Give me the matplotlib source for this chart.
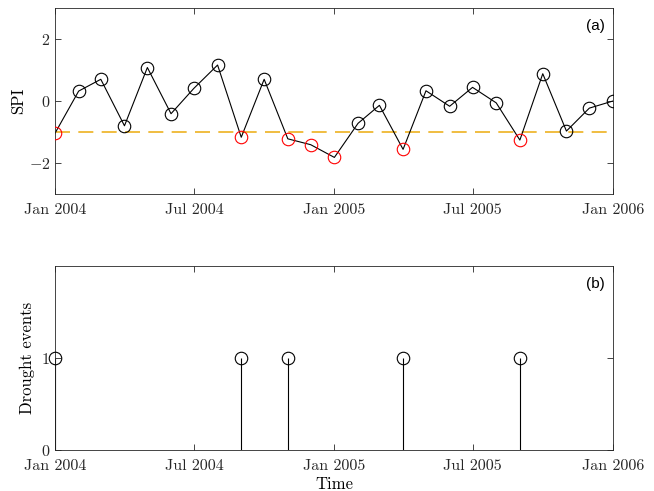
import numpy as np
import pandas as pd
import matplotlib
matplotlib.use('Agg')
import matplotlib.pyplot as plt
import matplotlib.dates as mdates

# monthly SPI, Jan 2004 .. Jan 2006
months = pd.date_range('2004-01-01', '2006-01-01', freq='MS')
spi = [-1.04, 0.32, 0.70, -0.80, 1.08, -0.41, 0.41, 1.16, -1.17, 0.70, -1.22, -1.41,
       -1.82, -0.72, -0.14, -1.56, 0.33, -0.17, 0.44, -0.06, -1.26, 0.88, -0.97, -0.23,
       0.0]
threshold = -1.0

# drought onset months
event_dates = pd.to_datetime(['2004-01-01', '2004-09-01', '2004-11-01', '2005-04-01', '2005-09-01'])
event_counts = [1, 1, 1, 1, 1]

xticks = pd.to_datetime(['2004-01-01', '2004-07-01', '2005-01-01', '2005-07-01', '2006-01-01'])

plt.rcParams['font.family'] = 'cmr10'
plt.rcParams['axes.unicode_minus'] = False
plt.rcParams['axes.formatter.use_mathtext'] = True

fig = plt.figure(figsize=(6.54, 4.91), dpi=100)
ax1 = fig.add_axes([0.0841, 0.6049, 0.8532, 0.3788])
ax2 = fig.add_axes([0.0841, 0.0835, 0.8532, 0.3747])

spi = np.array(spi)
dry = spi < threshold

ax1.axhline(threshold, color='#EDB120', lw=1.2, dashes=(9, 5), zorder=1)
ax1.plot(months, spi, color='black', lw=0.8, zorder=2)
ax1.plot(months[~dry], spi[~dry], 'o', mfc='none', mec='black', ms=9, mew=0.8, zorder=3)
ax1.plot(months[dry], spi[dry], 'o', mfc='none', mec='red', ms=9, mew=0.8, zorder=3)
ax1.set_ylim(-3, 3)
ax1.set_yticks([-2, 0, 2])
ax1.set_ylabel('SPI', fontsize=12, labelpad=2)
ax1.text(0.985, 0.94, '(a)', transform=ax1.transAxes, ha='right', va='top',
         fontsize=11, family='Liberation Sans')

ax2.vlines(event_dates, 0, event_counts, color='black', lw=0.8, zorder=2)
ax2.plot(event_dates, event_counts, 'o', mfc='none', mec='black', ms=9, mew=0.8, zorder=3,
         clip_on=False)
ax2.set_ylim(0, 2)
ax2.set_yticks([0, 1])
ax2.set_ylabel('Drought events', fontsize=12)
ax2.set_xlabel('Time', fontsize=12, labelpad=2)
ax2.text(0.985, 0.94, '(b)', transform=ax2.transAxes, ha='right', va='top',
         fontsize=11, family='Liberation Sans')

for ax in (ax1, ax2):
    ax.set_xlim(months[0], months[-1])
    ax.set_xticks(xticks)
    ax.xaxis.set_major_formatter(mdates.DateFormatter('%b %Y'))
    ax.tick_params(direction='in', top=True, right=True, length=4, width=0.6,
                   labelsize=11.5, color='#262626', labelcolor='#262626')
    ax.tick_params(axis='x', pad=7)
    for s in ax.spines.values():
        s.set_color('#262626')
        s.set_linewidth(0.6)

fig.savefig('out.png', dpi=100)
